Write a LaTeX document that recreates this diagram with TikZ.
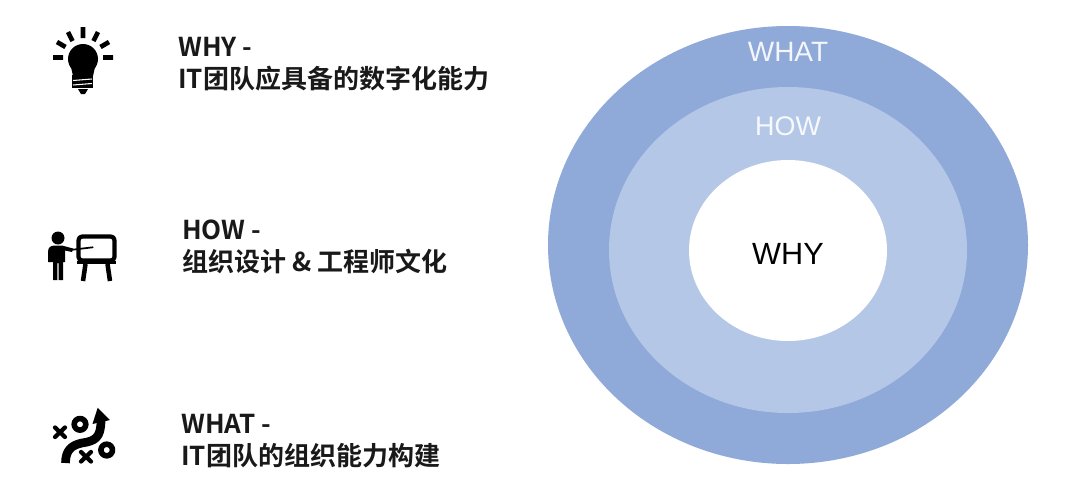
\documentclass[tikz,border=0pt]{standalone}
\usepackage{fontspec}
\setmainfont{Open Sans}
\newfontfamily\cjk{Noto Sans CJK SC}[BoldFont={Noto Sans CJK SC Bold}]
\tikzset{
  x=0.75pt,y=-0.75pt,
  ring/.style={draw=none},
  headline/.style={anchor=base west,inner sep=0pt,font=\fontsize{19.5pt}{21pt}\selectfont\bfseries\cjk,text=black!90},
  ringlabel/.style={inner sep=0pt,font=\fontsize{21pt}{24pt}\selectfont\fontspec{Liberation Sans}},
  ink/.style={draw=black,line cap=round,line join=round},
}
\definecolor{outerblue}{HTML}{8FA9D9}
\definecolor{midblue}{HTML}{B4C7E7}
\begin{document}
\begin{tikzpicture}
\useasboundingbox (0,0) rectangle (1080,493);
\fill[white] (0,0) rectangle (1080,493);
% rings
\fill[outerblue,ring] (788,245) ellipse [x radius=240,y radius=219];
\fill[midblue,ring] (788,250) ellipse [x radius=179,y radius=163];
\fill[white,ring] (788,250.5) ellipse [x radius=99,y radius=90.5];
\node[ringlabel,text=white!90!outerblue] (what) at (788,52) {WHAT};
\node[ringlabel,text=white!90!midblue,font=\fontsize{20.2pt}{24pt}\selectfont\fontspec{Liberation Sans}] (how) at (788,126) {HOW};
\node[ringlabel,text=black,font=\fontsize{23pt}{26pt}\selectfont\fontspec{Liberation Sans}] (why) at (788,254) {WHY};
% headlines
\node[headline] (t1a) at (178,56) {WHY -};
\node[headline] (t1b) at (178,88) {IT团队应具备的数字化能力};
\node[headline] (t2a) at (182,239) {HOW -};
\node[headline] (t2b) at (182,271) {组织设计 \& 工程师文化};
\node[headline] (t3a) at (181,433) {WHAT -};
\node[headline] (t3b) at (181,465) {IT团队的组织能力构建};
% bulb icon
\fill (83,59) circle [radius=15];
\fill (71,67) -- (95,67) -- (93,76) -- (73,76) -- cycle;
\fill (72,75) rectangle (93,88);
\draw[white,line width=0.8pt] (73,80.5) -- (92,79) (73,85) -- (92,83.5);
\fill (78,89) -- (88,89) -- (85,94) -- (81,94) -- cycle;
\draw[ink,line width=3.5pt,line cap=butt]
  (53,57.5) -- (63,57.5) (103,57.5) -- (113,57.5)
  (57,42) -- (65.5,47) (100.5,47) -- (109,42)
  (68,32) -- (72.5,41) (93.5,41) -- (98,32)
  (83,27) -- (83,38);
% presenter icon
\fill (58,238) circle [radius=6.5];
\fill (48,252) .. controls (48,247) and (51,245.5) .. (55,245.5) -- (62,245.5) -- (73,248.5) -- (72,252) -- (65,250.5) -- (65,262) -- (63,262) -- (63,280) -- (58.7,280) -- (58.7,263) -- (57.3,263) -- (57.3,280) -- (53,280) -- (53,262) -- (48,262) -- cycle;
\draw[ink,line width=1.3pt] (70,250) -- (92.7,247.3);
\draw[ink,line width=3.2pt,rounded corners=2.5pt] (78.6,236.6) rectangle (114.4,260.5);
\fill (77,261) rectangle (116,264);
\draw[ink,line width=3.4pt,line cap=butt] (85.5,264) -- (83,281) (107.5,264) -- (110,281);
% play icon
\draw[ink,line width=3.2pt] (55,427.5) -- (65,437) (65,427.5) -- (55,437);
\draw[ink,line width=3.2pt] (81,452) -- (91,461.5) (91,452) -- (81,461.5);
\draw[ink,line width=4.2pt] (80,424.3) circle [radius=5.8];
\draw[ink,line width=4.2pt] (106.7,450) circle [radius=5.8];
\draw[ink,line width=6.5pt,line cap=butt] (65.5,463) .. controls (65.5,450) and (72,445) .. (82,443) .. controls (95,441) and (101,438) .. (101,420);
\fill (97.7,407.7) -- (110,420) -- (92.5,424) -- cycle;
\end{tikzpicture}
\end{document}
